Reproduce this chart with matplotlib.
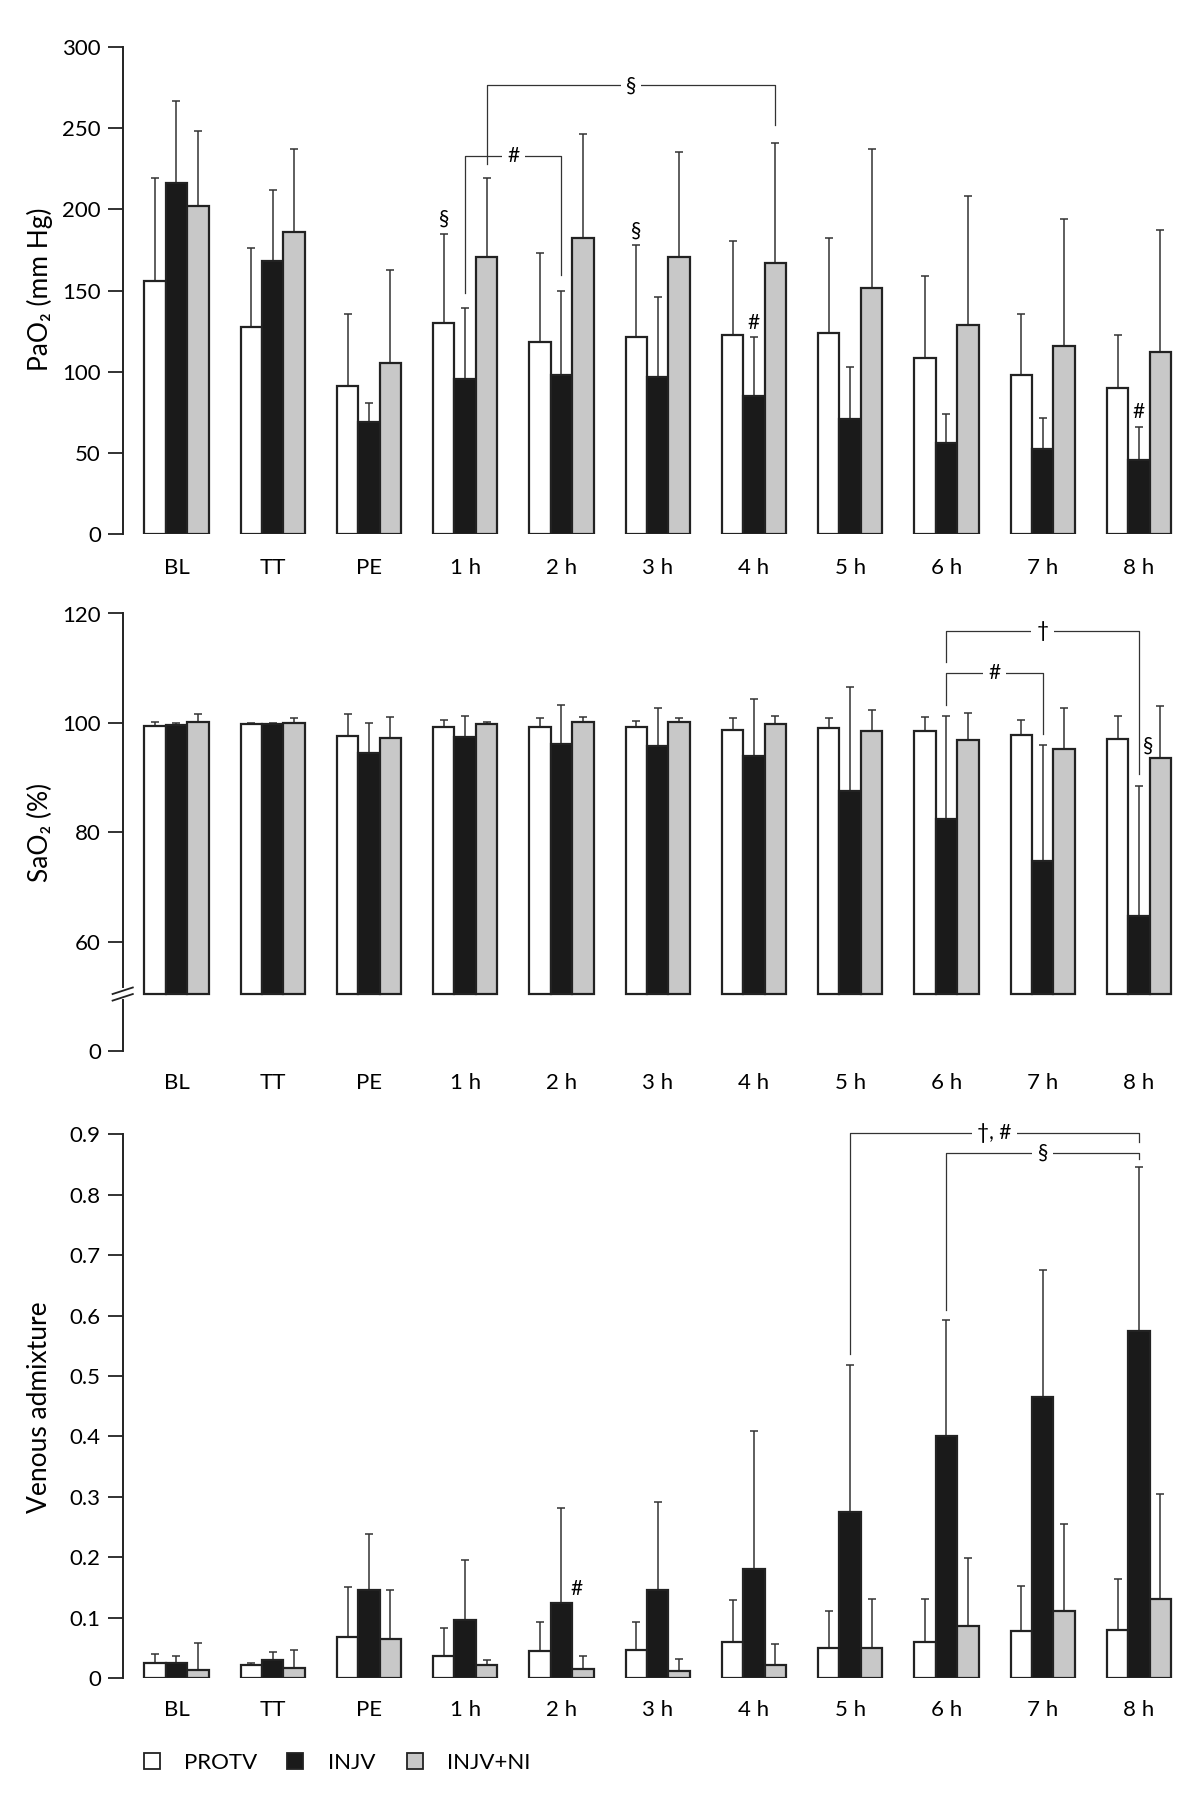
import matplotlib
matplotlib.use("Agg")
import matplotlib.pyplot as plt
from matplotlib.patches import Rectangle
import numpy as np

plt.rcParams['font.family'] = ['Lato', 'DejaVu Sans']

categories = ['BL', 'TT', 'PE', '1 h', '2 h', '3 h', '4 h', '5 h', '6 h', '7 h', '8 h']
groups = ['PROTV', 'INJV', 'INJV+NI']

# PaO2 (mm Hg): mean and SD
pao2_protv = [156, 127.6, 91, 130.2, 118.3, 121.2, 122.5, 123.8, 108.2, 97.9, 89.9]
pao2_protv_sd = [63, 48.4, 44.5, 54.8, 55, 56.9, 58.3, 58.5, 50.6, 37.4, 32.4]
pao2_injv = [216.4, 168.2, 69.3, 95.4, 98, 96.5, 84.9, 70.8, 56.1, 52.3, 45.7]
pao2_injv_sd = [50.4, 44, 11.4, 44, 51.5, 49.5, 36.3, 32.1, 18, 19.2, 20.5]
pao2_ni = [201.9, 186.3, 105.3, 170.7, 182.5, 170.7, 166.7, 151.3, 128.9, 115.9, 111.9]
pao2_ni_sd = [46.6, 50.7, 57.4, 48.3, 63.6, 64.8, 74.1, 85.7, 79.4, 78.1, 75.5]

# SaO2 (%)
sao2_protv = [99.4, 99.7, 97.6, 99.2, 99.2, 99.2, 98.7, 99.0, 98.5, 97.8, 97.1]
sao2_protv_sd = [0.7, 0.2, 4.0, 1.4, 1.7, 1.2, 2.2, 1.9, 2.6, 2.8, 4.2]
sao2_injv = [99.6, 99.8, 94.4, 97.5, 96.1, 95.8, 93.9, 87.6, 82.4, 74.8, 64.7]
sao2_injv_sd = [0.3, 0.1, 5.5, 3.7, 7.1, 7.0, 10.5, 18.9, 18.9, 21.2, 23.8]
sao2_ni = [100.2, 99.9, 97.3, 99.7, 100.1, 100.2, 99.7, 98.5, 96.9, 95.2, 93.5]
sao2_ni_sd = [1.4, 1.0, 3.8, 0.4, 1.0, 0.7, 1.6, 3.8, 4.9, 7.6, 9.5]

# Venous admixture
va_protv = [0.025, 0.021, 0.067, 0.037, 0.044, 0.046, 0.060, 0.049, 0.060, 0.077, 0.079]
va_protv_sd = [0.014, 0.003, 0.084, 0.045, 0.048, 0.046, 0.069, 0.062, 0.070, 0.076, 0.085]
va_injv = [0.025, 0.030, 0.145, 0.096, 0.124, 0.146, 0.181, 0.275, 0.401, 0.465, 0.574]
va_injv_sd = [0.012, 0.013, 0.093, 0.099, 0.157, 0.145, 0.228, 0.243, 0.191, 0.210, 0.272]
va_ni = [0.013, 0.016, 0.065, 0.022, 0.014, 0.012, 0.021, 0.049, 0.086, 0.111, 0.131]
va_ni_sd = [0.045, 0.030, 0.081, 0.007, 0.023, 0.019, 0.035, 0.081, 0.113, 0.144, 0.174]

W, H = 1200, 1810
fig = plt.figure(figsize=(W / 100, H / 100), dpi=100)

colors = ['white', '#1a1a1a', '#c8c8c8']
edge = '#222222'
bw = 0.2223
x = np.arange(len(categories))
x_left, x_right = -0.558, 10.5
spine_px = 122.7
ax_right_px = spine_px + (x_right - x_left) * 96.25


def make_axes(y_top, y_bot):
    return fig.add_axes([spine_px / W, 1 - y_bot / H,
                         (ax_right_px - spine_px) / W, (y_bot - y_top) / H])


def draw_bars(ax, means, sds, base=0.0):
    for k, (m, s) in enumerate(zip(means, sds)):
        m = np.asarray(m, dtype=float)
        s = np.asarray(s, dtype=float)
        pos = x + (k - 1) * bw
        ax.errorbar(pos, m, yerr=[np.zeros_like(s), s], fmt='none',
                    ecolor='#333333', elinewidth=1.1, capsize=3.2,
                    capthick=1.1, zorder=1, clip_on=False)
        ax.bar(pos, m - base, width=bw, bottom=base, color=colors[k],
               edgecolor=edge, linewidth=1.6, zorder=2)


def style(ax, ylim, ticks, ticklabels, label_off):
    ax.set_xlim(x_left, x_right)
    ax.set_ylim(*ylim)
    ax.set_yticks(ticks)
    ax.set_yticklabels(ticklabels)
    for sp in ['top', 'right', 'bottom']:
        ax.spines[sp].set_visible(False)
    ax.spines['left'].set_linewidth(1.4)
    ax.spines['left'].set_color('#222222')
    ax.tick_params(axis='y', direction='out', length=10.8, width=1.3,
                   pad=5, labelsize=16, color='#222222')
    ax.set_xticks([])
    for i, c in enumerate(categories):
        ax.annotate(c, xy=(i, 0), xycoords=('data', 'axes fraction'),
                    xytext=(0, label_off), textcoords='offset pixels',
                    ha='center', va='baseline', fontsize=16)


def bracket(ax, x1, x2, y, y1, y2, text):
    ax.plot([x1, x1, x2, x2], [y1, y, y, y2], color='#333333', lw=0.9,
            clip_on=False, zorder=3)
    ax.text((x1 + x2) / 2, y, text, ha='center', va='center', fontsize=15,
            zorder=4, bbox=dict(boxstyle='square,pad=0.25', fc='white', ec='none'))


def mark(ax, xx, yy, text):
    ax.text(xx, yy, text, ha='center', va='center', fontsize=15, zorder=4)


# Panel 1: PaO2
ax1 = make_axes(47, 534)
draw_bars(ax1, [pao2_protv, pao2_injv, pao2_ni],
          [pao2_protv_sd, pao2_injv_sd, pao2_ni_sd])
style(ax1, (0, 300), [0, 50, 100, 150, 200, 250, 300],
      ['0', '50', '100', '150', '200', '250', '300'], -40)
bracket(ax1, 3, 4, 233, 148.4, 159.4, '#')
bracket(ax1, 3 + bw, 6 + bw, 276.4, 228, 251.8, '§')
mark(ax1, 3 - bw, 194, '§')
mark(ax1, 5 - bw, 187, '§')
mark(ax1, 6, 129.8, '#')
mark(ax1, 10, 75.2, '#')

# Panel 2: SaO2 with broken axis (0 shown at the 40 position)
ax2 = make_axes(613.5, 1050.9)
base2 = 50.4
draw_bars(ax2, [sao2_protv, sao2_injv, sao2_ni],
          [sao2_protv_sd, sao2_injv_sd, sao2_ni_sd], base=base2)
style(ax2, (40, 120), [40, 60, 80, 100, 120], ['0', '60', '80', '100', '120'], -38)
ax2.spines['left'].set_visible(False)
ax2.plot([x_left, x_left], [51.7, 120], color='#222222', lw=1.4, clip_on=False)
ax2.plot([x_left, x_left], [40, 49.3], color='#222222', lw=1.4, clip_on=False)
for yc in (51.0, 49.8):
    ax2.plot([x_left - 0.105, x_left + 0.105], [yc - 0.6, yc + 0.6],
             color='#222222', lw=1.3, clip_on=False)
bracket(ax2, 8, 10, 116.8, 111.2, 90.6, '†')
bracket(ax2, 8, 9, 109.1, 103.2, 97.9, '#')
mark(ax2, 10.1, 95.8, '§')

# Panel 3: venous admixture
ax3 = make_axes(1134.4, 1677.9)
draw_bars(ax3, [va_protv, va_injv, va_ni], [va_protv_sd, va_injv_sd, va_ni_sd])
yt = [0, 0.1, 0.2, 0.3, 0.4, 0.5, 0.6, 0.7, 0.8, 0.9]
style(ax3, (0, 0.9), yt, ['0'] + [f'{v:.1f}' for v in yt[1:]], -38)
bracket(ax3, 7, 10, 0.9024, 0.536, 0.888, '†, #')
bracket(ax3, 8, 10, 0.8695, 0.6096, 0.8587, '§')
mark(ax3, 4.16, 0.148, '#')

# y labels
fig.text(40 / W, 1 - 289 / H, 'PaO₂ (mm Hg)', rotation=90, ha='center', va='center', fontsize=19)
fig.text(40 / W, 1 - 832 / H, 'SaO₂ (%)', rotation=90, ha='center', va='center', fontsize=19)
fig.text(40 / W, 1 - 1407 / H, 'Venous admixture', rotation=90, ha='center', va='center', fontsize=19)

# legend
leg_y = 1761
for cx, tx, col, name in zip([151.7, 295.3, 415], [184, 328, 447], colors, groups):
    fig.add_artist(Rectangle(((cx - 8) / W, 1 - (leg_y + 8) / H), 16 / W, 16 / H,
                             transform=fig.transFigure, facecolor=col,
                             edgecolor=edge, linewidth=1.3))
    fig.text(tx / W, 1 - (leg_y + 8) / H, name, ha='left', va='baseline', fontsize=16)

fig.savefig('out.png', dpi=100, facecolor='white')
